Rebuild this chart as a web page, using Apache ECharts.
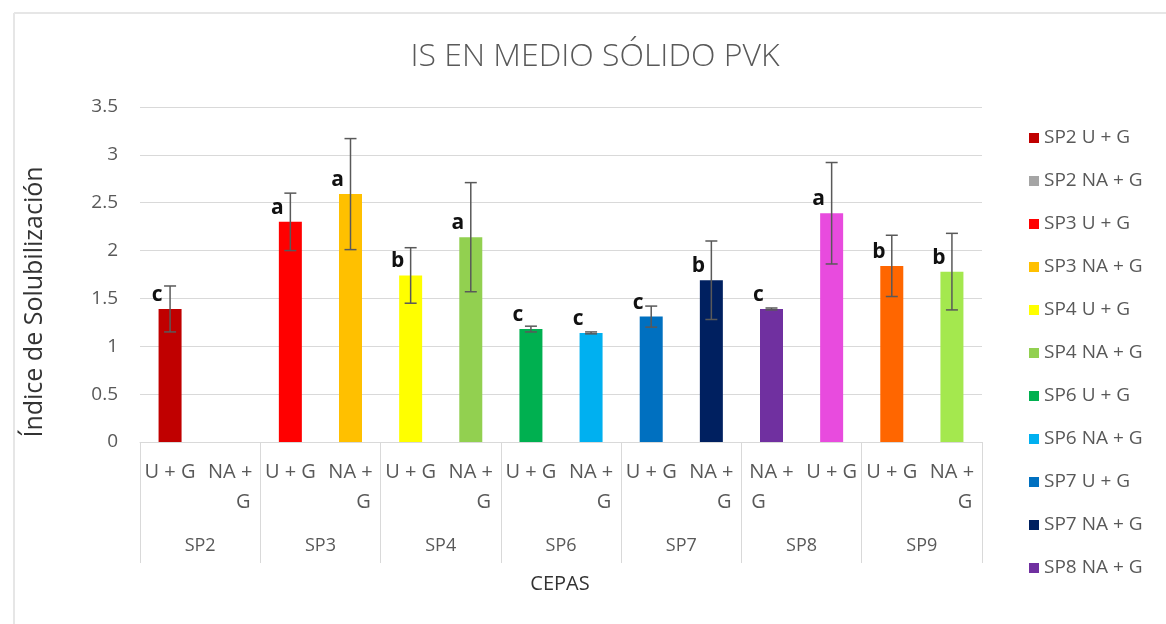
<!DOCTYPE html>
<html>
<head>
<meta charset="utf-8">
<script src="https://cdn.jsdelivr.net/npm/echarts@6/dist/echarts.min.js"></script>
<style>
html,body{margin:0;padding:0;background:#fff;}
#chart{width:1166px;height:624px;}
</style>
</head>
<body>
<div id="chart"></div>
<script>
// ---- data ----
var groups = ['SP2', 'SP3', 'SP4', 'SP6', 'SP7', 'SP8', 'SP9'];
var subLabels = ['U + G', 'NA + G', 'U + G', 'NA + G', 'U + G', 'NA + G', 'U + G', 'NA + G', 'U + G', 'NA + G', 'NA + G', 'U + G', 'U + G', 'NA + G'];
var seriesNames = ['SP2 U + G', 'SP2 NA + G', 'SP3 U + G', 'SP3 NA + G', 'SP4 U + G', 'SP4 NA + G', 'SP6 U + G', 'SP6 NA + G', 'SP7 U + G', 'SP7 NA + G', 'SP8 NA + G', 'SP8 U + G', 'SP9 U + G', 'SP9 NA + G'];
var values = [1.39, null, 2.30, 2.59, 1.74, 2.14, 1.18, 1.14, 1.31, 1.69, 1.39, 2.39, 1.84, 1.78];
var errors = [0.24, null, 0.30, 0.58, 0.29, 0.57, 0.03, 0.01, 0.11, 0.41, 0.01, 0.53, 0.32, 0.40];
var letters = ['c', '', 'a', 'a', 'b', 'a', 'c', 'c', 'c', 'b', 'c', 'a', 'b', 'b'];
var yTicks = { min: 0, max: 3.5, interval: 0.5 };
var legendCount = 11;

// ---- styles ----
var colors = ['#C00000', '#A5A5A5', '#FF0000', '#FFC000', '#FFFF00', '#92D050', '#00B050', '#00B0F0', '#0070C0', '#002060', '#7030A0', '#E84BDE', '#FF6600', '#A4E84E'];
var FONT = '"Open Sans", "Noto Sans", sans-serif';
var GREY = '#595959';

var chart = echarts.init(document.getElementById('chart'));

var barSeries = seriesNames.map(function (name, k) {
  return {
    name: name,
    type: 'bar',
    xAxisIndex: 0,
    yAxisIndex: 0,
    barWidth: 23,
    barGap: '-100%',
    itemStyle: { color: colors[k] },
    data: values.map(function (v, i) { return (i === k && v != null) ? v : '-'; }),
    emphasis: { disabled: true },
    z: 2
  };
});

var errRows = [];
var errLetters = [];
values.forEach(function (v, i) {
  if (v != null) { errRows.push([i, v, errors[i]]); errLetters.push(letters[i]); }
});

var errSeries = {
  type: 'custom',
  name: 'err',
  xAxisIndex: 0,
  yAxisIndex: 0,
  z: 5,
  silent: true,
  encode: { x: 0, y: 1 },
  data: errRows,
  renderItem: function (params, api) {
    var i = api.value(0), v = api.value(1), e = api.value(2);
    var top = api.coord([i, v + e]);
    var bot = api.coord([i, v - e]);
    var base = api.coord([i, v]);
    var half = 6;
    var ls = { stroke: '#595959', lineWidth: 1.5 };
    return {
      type: 'group',
      children: [
        { type: 'line', shape: { x1: top[0], y1: top[1], x2: bot[0], y2: bot[1] }, style: ls },
        { type: 'line', shape: { x1: top[0] - half, y1: top[1], x2: top[0] + half, y2: top[1] }, style: ls },
        { type: 'line', shape: { x1: bot[0] - half, y1: bot[1], x2: bot[0] + half, y2: bot[1] }, style: ls },
        { type: 'text', x: base[0] - 13, y: base[1] - 14,
          style: { text: errLetters[params.dataIndex], fill: '#111', font: 'bold 21px ' + FONT, align: 'center', verticalAlign: 'middle' } }
      ]
    };
  }
};

var option = {
  backgroundColor: '#fff',
  animation: false,
  grid: { left: 140, right: 184, top: 107, bottom: 182, containLabel: false },
  legend: {
    orient: 'vertical',
    left: 1024,
    top: 123,
    itemWidth: 10,
    itemHeight: 10,
    itemGap: 23,
    icon: 'rect',
    data: seriesNames.slice(0, legendCount),
    textStyle: { fontFamily: FONT, fontSize: 19, lineHeight: 20, color: GREY },
    selectedMode: false
  },
  graphic: [
    { type: 'text', x: 595, y: 57,
      style: { text: 'IS EN MEDIO SÓLIDO PVK', font: '300 32px ' + FONT, fill: GREY, align: 'center', verticalAlign: 'middle' } },
    { type: 'text', x: 35, y: 302, rotation: Math.PI / 2,
      style: { text: 'Índice de Solubilización', font: '25px ' + FONT, fill: '#333', align: 'center', verticalAlign: 'middle' } },
    { type: 'text', x: 560, y: 584,
      style: { text: 'CEPAS', font: '20px ' + FONT, fill: '#333', align: 'center', verticalAlign: 'middle' } },
    { type: 'line', shape: { x1: 14, y1: 13, x2: 1166, y2: 13 }, style: { stroke: '#E6E6E6', lineWidth: 2 } },
    { type: 'line', shape: { x1: 14, y1: 13, x2: 14, y2: 624 }, style: { stroke: '#E6E6E6', lineWidth: 2 } }
  ],
  xAxis: [
    {
      type: 'category',
      position: 'bottom',
      data: subLabels,
      axisLine: { show: true, lineStyle: { color: '#D9D9D9', width: 1 } },
      axisTick: { show: false },
      axisLabel: {
        interval: 0,
        margin: 15,
        fontFamily: FONT,
        fontSize: 20,
        lineHeight: 30,
        color: GREY,
        formatter: function (val, idx) {
          if (val === 'NA + G') {
            return idx === 10 ? 'NA +\nG     ' : 'NA +\n     G';
          }
          return val;
        }
      },
      splitLine: { show: false }
    },
    {
      type: 'category',
      position: 'bottom',
      data: groups,
      axisLine: { show: false },
      axisTick: { show: true, interval: 0, length: 121, lineStyle: { color: '#D9D9D9', width: 1 } },
      axisLabel: { interval: 0, margin: 94, fontFamily: FONT, fontSize: 18, lineHeight: 20, color: GREY },
      splitLine: { show: false }
    }
  ],
  yAxis: {
    type: 'value',
    min: yTicks.min,
    max: yTicks.max,
    interval: yTicks.interval,
    axisLine: { show: false },
    axisTick: { show: false },
    axisLabel: { margin: 22, fontFamily: FONT, fontSize: 19, color: GREY },
    splitLine: { lineStyle: { color: '#D9D9D9', width: 1 } }
  },
  series: barSeries.concat([errSeries])
};

chart.setOption(option);
</script>
</body>
</html>
